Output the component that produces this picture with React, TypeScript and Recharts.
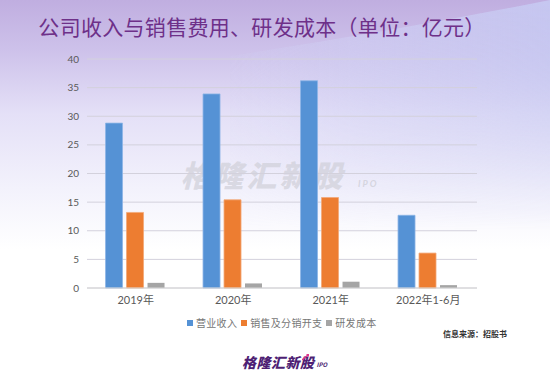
import React from 'react';
import { BarChart, Bar, XAxis, YAxis, CartesianGrid } from 'recharts';

const categories = ['2019年', '2020年', '2021年', '2022年1-6月'];
const revenue = [28.8, 33.9, 36.2, 12.7];
const selling = [13.2, 15.4, 15.8, 6.1];
const rnd = [0.9, 0.8, 1.1, 0.5];
const seriesNames = ['营业收入', '销售及分销开支', '研发成本'];
const seriesColors = ['#5592d5', '#ed7d31', '#a5a5a5'];
const yTicks = [0, 5, 10, 15, 20, 25, 30, 35, 40];

const title = '公司收入与销售费用、研发成本（单位：亿元）';
const source = '信息来源：招股书';
const brand = '格隆汇新股';

const data = categories.map((c, i) => ({
  name: c,
  revenue: revenue[i],
  selling: selling[i],
  rnd: rnd[i],
}));

const FONT = "Lato, 'Noto Sans CJK SC', sans-serif";

export default function App() {
  return (
    <div style={{ position: 'absolute', left: 0, top: 0, width: 550, height: 378, overflow: 'hidden', fontFamily: FONT }}>
      <svg width={550} height={378} style={{ position: 'absolute', left: 0, top: 0 }}>
        <defs>
          <linearGradient id="bg" x1="0" y1="0" x2="0" y2="1">
            <stop offset="0" stopColor="#c0aee0" />
            <stop offset="0.13" stopColor="#cdc1ea" />
            <stop offset="0.3" stopColor="#e4e0f7" />
            <stop offset="0.5" stopColor="#f3f2fc" />
            <stop offset="0.66" stopColor="#ffffff" />
            <stop offset="1" stopColor="#ffffff" />
          </linearGradient>
          <linearGradient id="wedgeH" gradientUnits="userSpaceOnUse" x1="230" y1="0" x2="550" y2="0">
            <stop offset="0" stopColor="#d2d2f4" stopOpacity="0.15" />
            <stop offset="0.4" stopColor="#cfd0f4" stopOpacity="0.6" />
            <stop offset="1" stopColor="#c6c9f2" stopOpacity="0.9" />
          </linearGradient>
          <linearGradient id="fadeV" gradientUnits="userSpaceOnUse" x1="0" y1="0" x2="0" y2="230">
            <stop offset="0" stopColor="#fff" stopOpacity="1" />
            <stop offset="0.3" stopColor="#fff" stopOpacity="0.8" />
            <stop offset="1" stopColor="#fff" stopOpacity="0" />
          </linearGradient>
          <mask id="wedgeMask" maskUnits="userSpaceOnUse" x="0" y="0" width="550" height="378">
            <rect x={0} y={0} width={550} height={378} fill="url(#fadeV)" />
          </mask>
        </defs>
        <rect x={0} y={0} width={550} height={378} fill="url(#bg)" />
        <g mask="url(#wedgeMask)">
          <path d="M 230 56 Q 400 30 550 0 L 550 260 L 230 260 Z" fill="url(#wedgeH)" />
        </g>
        <text x={263} y={174} textAnchor="middle" dominantBaseline="central" fontSize={30} fontWeight={900} fontStyle="italic" fill="#cfcfd8" fillOpacity={0.7} fontFamily="'Noto Sans CJK SC', sans-serif" letterSpacing={3}>{brand}</text>
        <text x={358} y={187} fontSize={9} fontWeight={700} fontStyle="italic" fill="#cfcfd8" fillOpacity={0.8} letterSpacing={2}>IPO</text>
      </svg>
      <div style={{ position: 'absolute', left: 0, top: 0 }}>
        <BarChart width={550} height={378} data={data} margin={{ top: 59, right: 73, left: 47, bottom: 60 }} barCategoryGap="19%" barGap={4}>
          <CartesianGrid vertical={false} stroke="#d3d1dc" strokeWidth={1} />
          <XAxis dataKey="name" height={30} axisLine={{ stroke: '#d6d6d6' }} tickLine={false} tick={{ fontSize: 11, fill: '#595959', fontFamily: FONT }} interval={0} />
          <YAxis width={40} domain={[0, 40]} ticks={yTicks} axisLine={false} tickLine={false} tick={{ fontSize: 10, fill: '#595959', fontFamily: FONT }} />
          <Bar dataKey="revenue" name={seriesNames[0]} fill={seriesColors[0]} stroke="#8db5e6" strokeWidth={0.8} isAnimationActive={false} />
          <Bar dataKey="selling" name={seriesNames[1]} fill={seriesColors[1]} stroke="#f3a877" strokeWidth={0.8} isAnimationActive={false} />
          <Bar dataKey="rnd" name={seriesNames[2]} fill={seriesColors[2]} isAnimationActive={false} />
        </BarChart>
      </div>
      <div style={{ position: 'absolute', left: 0, top: 11, width: 524, textAlign: 'center', fontSize: 21, color: '#6e3089', fontFamily: "'Noto Sans CJK SC', sans-serif", letterSpacing: 0.3, whiteSpace: 'nowrap' }}>{title}</div>
      <div style={{ position: 'absolute', left: 187, top: 315, display: 'flex', alignItems: 'center', fontSize: 10, color: '#767676', fontFamily: "'Noto Sans CJK SC', sans-serif", letterSpacing: 0.3 }}>
        {seriesNames.map((n, i) => (
          <div key={n} style={{ display: 'flex', alignItems: 'center', marginRight: 4 }}>
            <span style={{ display: 'inline-block', width: 6, height: 6, background: seriesColors[i], marginRight: 3 }} />
            <span>{n}</span>
          </div>
        ))}
      </div>
      <div style={{ position: 'absolute', right: 43, top: 328, fontSize: 8, fontWeight: 700, color: '#333', fontFamily: "'Noto Sans CJK SC', sans-serif" }}>{source}</div>
      <div style={{ position: 'absolute', left: 242, top: 352, display: 'flex', alignItems: 'flex-end', fontFamily: "'Noto Sans CJK SC', sans-serif" }}>
        <span style={{ fontSize: 14, fontWeight: 900, fontStyle: 'italic', color: '#4e1f74', letterSpacing: 0.5 }}>{brand}</span>
        <span style={{ fontSize: 6, fontWeight: 700, fontStyle: 'italic', color: '#4e1f74', marginLeft: 2, marginBottom: 3 }}>IPO</span>
      </div>
      <svg width={8} height={8} style={{ position: 'absolute', left: 302, top: 353 }}>
        <path d="M 0 7 L 6 2" stroke="#e0348a" strokeWidth={1.5} />
        <path d="M 4 1 L 7 1 L 7 4 Z" fill="#e0348a" />
      </svg>
    </div>
  );
}
